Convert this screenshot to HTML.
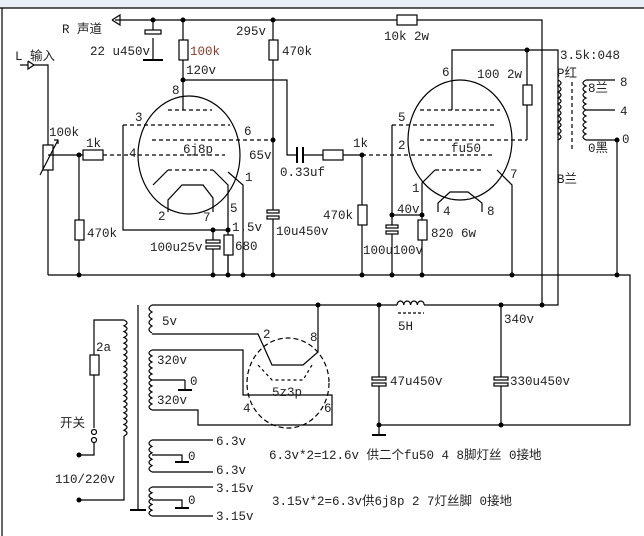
<!DOCTYPE html>
<html><head><meta charset="utf-8"><style>
html,body{margin:0;padding:0;background:#fff}
svg{display:block}
text{font-family:"Liberation Mono","Noto Sans CJK SC",monospace;font-size:12.5px;fill:#222}
.c{font-family:"Liberation Mono","Noto Sans CJK SC",monospace}
</style></head><body>
<svg width="644" height="536" viewBox="0 0 644 536" xmlns="http://www.w3.org/2000/svg">
<rect x="0" y="0" width="644" height="8" fill="#e9edf5"/>
<g fill="none" stroke="#000" stroke-width="1.2">
<line x1="0" y1="8" x2="644" y2="8"/>
<line x1="2" y1="8" x2="2" y2="536"/>
<!-- top rail -->
<polyline points="115,20 397,20"/><polyline points="417,20 542,20 542,305"/>
<rect x="397" y="15" width="20" height="10" fill="#fff"/>
<polyline points="112,20 120,15 120,25 112,20"/>
<!-- 22u cap -->
<line x1="153" y1="20" x2="153" y2="30"/><rect x="145" y="30" width="16" height="4"/><line x1="153" y1="38" x2="153" y2="60"/><line x1="143" y1="60" x2="163" y2="60" stroke-width="2"/>
<!-- 100k -->
<line x1="183" y1="20" x2="183" y2="40"/><rect x="179" y="40" width="9" height="20" fill="#fff"/><line x1="183" y1="60" x2="183" y2="110"/>
<polyline points="183,80 287,80 287,155 297,155"/>
<line x1="297" y1="147" x2="297" y2="163" stroke-width="2"/><line x1="303" y1="147" x2="303" y2="163" stroke-width="2"/>
<line x1="303" y1="155" x2="323" y2="155"/><rect x="323" y="150" width="20" height="10"/><line x1="343" y1="155" x2="362" y2="155"/>
<!-- 470k / 295 -->
<line x1="273" y1="20" x2="273" y2="40"/><rect x="269" y="40" width="9" height="20" fill="#fff"/><line x1="273" y1="60" x2="273" y2="210"/>
<rect x="267" y="210" width="12" height="3"/><rect x="267" y="216" width="12" height="3"/><line x1="273" y1="219" x2="273" y2="275"/>
<!-- input -->
<polyline points="20,65 28,65"/><polyline points="28,61 34,65 28,69 28,61"/><polyline points="34,65 48,65 48,275"/>
<rect x="43" y="145" width="10" height="25" fill="#fff"/><line x1="40" y1="175" x2="58" y2="140"/><polyline points="54,140 58,140 58,144"/>
<line x1="48" y1="155" x2="83" y2="155"/><rect x="83" y="150" width="20" height="10"/>
<line x1="79" y1="155" x2="79" y2="220"/><rect x="75" y="220" width="9" height="20"/><line x1="79" y1="240" x2="79" y2="275"/>
<!-- bottom rail -->
<polyline points="48,275 630,275 630,425 379,425"/>
<!-- 6j8p -->
<ellipse cx="189" cy="155" rx="51" ry="59"/>
<g stroke-dasharray="4,3"><line x1="168" y1="110" x2="212" y2="110"/><line x1="123" y1="125" x2="230" y2="125"/><line x1="152" y1="140" x2="273" y2="140"/><line x1="103" y1="155" x2="225" y2="155"/><line x1="168" y1="170" x2="213" y2="170"/></g>
<polyline points="123,125 123,230 228,230"/>
<polyline points="153,185 168,170"/><polyline points="213,170 228,185 228,275"/>
<polyline points="168,212 168,200 182,185 203,185 213,198 213,212"/>
<polyline points="228,172 243,185 243,275"/>
<line x1="213" y1="230" x2="213" y2="240"/><rect x="206" y="240" width="14" height="3"/><rect x="206" y="246" width="14" height="3"/><line x1="213" y1="249" x2="213" y2="275"/>
<rect x="224" y="235" width="9" height="20" fill="#fff"/><line x1="228" y1="255" x2="228" y2="275"/>
<!-- fu50 -->
<ellipse cx="460" cy="140" rx="52" ry="60"/>
<g stroke-dasharray="4,3"><line x1="420" y1="110" x2="500" y2="110"/><line x1="392" y1="125" x2="497" y2="125"/><line x1="420" y1="140" x2="527" y2="140"/><line x1="362" y1="155" x2="495" y2="155"/><line x1="435" y1="170" x2="483" y2="170"/></g>
<polyline points="452,110 452,50 558,50 558,305 542,305"/>
<line x1="527" y1="50" x2="527" y2="85"/><rect x="523" y="85" width="9" height="20" fill="#fff"/><line x1="527" y1="105" x2="527" y2="140"/>
<polyline points="392,125 392,225"/><rect x="386" y="225" width="12" height="3"/><rect x="386" y="231" width="12" height="3"/><line x1="392" y1="234" x2="392" y2="275"/>
<line x1="362" y1="155" x2="362" y2="205"/><rect x="358" y="205" width="9" height="20"/><line x1="362" y1="225" x2="362" y2="275"/>
<polyline points="435,170 422,183 422,220"/><rect x="418" y="220" width="9" height="20" fill="#fff"/><line x1="422" y1="240" x2="422" y2="275"/>
<line x1="392" y1="215" x2="422" y2="215"/>
<polyline points="497,170 512,185 512,275"/>
<polyline points="438,212 438,203 450,192 468,192 482,203 482,212"/>
<!-- output transformer -->
<path d="M558,80 q6,3 0,6 q6,3 0,6 q6,3 0,6 q6,3 0,6 q6,3 0,6 q6,3 0,6 q6,3 0,6 q6,3 0,6 q6,3 0,6 q6,3 0,6"/>
<line x1="572" y1="82" x2="572" y2="152" stroke-dasharray="4,3"/>
<path d="M586,80 q-6,3 0,6 q-6,3 0,6 q-6,3 0,6 q-6,3 0,6 q-6,3 0,6 q-6,3 0,6 q-6,3 0,6 q-6,3 0,6 q-6,3 0,6 q-6,3 0,6"/>
<line x1="586" y1="80" x2="615" y2="80"/><line x1="586" y1="110" x2="615" y2="110"/><polyline points="586,140 617,140 617,275"/>
<!-- power supply -->
<polyline points="152,305 542,305"/>
<rect x="397" y="299" width="27" height="8" fill="#fff" stroke="none"/>
<path d="M397,305 a3.4,4 0 0 1 6.8,0 a3.4,4 0 0 1 6.8,0 a3.4,4 0 0 1 6.8,0 a3.4,4 0 0 1 6.8,0"/>
<line x1="398" y1="313" x2="424" y2="313" stroke-dasharray="3,2"/>
<line x1="379" y1="305" x2="379" y2="377"/><rect x="372" y="377" width="14" height="3"/><rect x="372" y="383" width="14" height="3"/><line x1="379" y1="386" x2="379" y2="435"/><line x1="372" y1="435" x2="386" y2="435" stroke-width="2"/>
<line x1="501" y1="305" x2="501" y2="377"/><rect x="494" y="377" width="14" height="3"/><rect x="494" y="383" width="14" height="3"/><line x1="501" y1="386" x2="501" y2="425"/>
<!-- mains transformer -->
<line x1="138" y1="305" x2="138" y2="510"/><line x1="130" y1="510" x2="146" y2="510" stroke-width="2"/>
<path d="M124,320 q6,2.9 0,5.8 q6,2.9 0,5.8 q6,2.9 0,5.8 q6,2.9 0,5.8 q6,2.9 0,5.8 q6,2.9 0,5.8 q6,2.9 0,5.8 q6,2.9 0,5.8 q6,2.9 0,5.8 q6,2.9 0,5.8 q6,2.9 0,5.8 q6,2.9 0,5.8 q6,2.9 0,5.8 q6,2.9 0,5.8 q6,2.9 0,5.8 q6,2.9 0,5.8 q6,2.9 0,5.8 q6,2.9 0,5.8 q6,2.9 0,5.8 q6,2.9 0,5.8"/>
<polyline points="124,320 94,320 94,355"/><rect x="90" y="355" width="9" height="20"/><line x1="94" y1="375" x2="94" y2="428"/>
<circle cx="94" cy="432" r="2.5"/><circle cx="94" cy="440" r="2.5"/><polyline points="94,443 94,455 79,455"/>
<polyline points="79,500 124,500 124,436"/>
<!-- 5v -->
<path d="M152,305 q-6,3.5 0,7 q-6,3.5 0,7 q-6,3.5 0,7 q-6,3.5 0,7"/>
<polyline points="152,334 258,334 272,365 303,365 318,352 318,305"/>
<ellipse cx="288" cy="383" rx="41" ry="45" stroke-dasharray="5,3"/>
<polyline points="258,365 272,380 303,380 312,365" stroke-dasharray="3,3"/>
<path d="M152,350 q-6,3 0,6 q-6,3 0,6 q-6,3 0,6 q-6,3 0,6 q-6,3 0,6 q-6,3 0,6 q-6,3 0,6 q-6,3 0,6 q-6,3 0,6 q-6,3 0,6"/>
<polyline points="152,350 243,350 243,395 332,395 332,425 198,425 198,410 152,410"/>
<line x1="152" y1="380" x2="185" y2="380"/><line x1="185" y1="380" x2="185" y2="390"/><line x1="178" y1="390" x2="192" y2="390" stroke-width="2"/>
<!-- 6.3 -->
<path d="M152,440 q-6,3.2 0,6.4 q-6,3.2 0,6.4 q-6,3.2 0,6.4 q-6,3.2 0,6.4 q-6,3.2 0,6.4"/>
<line x1="152" y1="440" x2="213" y2="440"/><line x1="152" y1="472" x2="213" y2="472"/>
<polyline points="152,455 182,455 182,462"/><line x1="175" y1="462" x2="189" y2="462" stroke-width="2"/>
<!-- 3.15 -->
<path d="M152,487 q-6,2.9 0,5.8 q-6,2.9 0,5.8 q-6,2.9 0,5.8 q-6,2.9 0,5.8 q-6,2.9 0,5.8"/>
<line x1="152" y1="487" x2="213" y2="487"/><line x1="152" y1="516" x2="213" y2="516"/>
<polyline points="152,500 182,500 182,508"/><line x1="175" y1="508" x2="189" y2="508" stroke-width="2"/>
</g>
<g fill="#000">
<circle cx="153" cy="20" r="2.5"/><circle cx="183" cy="20" r="2.5"/><circle cx="273" cy="20" r="2.5"/><circle cx="183" cy="80" r="2.5"/><circle cx="273" cy="140" r="2.5"/><circle cx="79" cy="155" r="2.5"/><circle cx="362" cy="155" r="2.5"/><circle cx="527" cy="50" r="2.5"/>
<circle cx="213" cy="230" r="2.5"/><circle cx="228" cy="230" r="2.5"/><circle cx="392" cy="215" r="2.5"/><circle cx="422" cy="215" r="2.5"/><circle cx="617" cy="140" r="2.5"/>
<circle cx="79" cy="275" r="2.5"/><circle cx="213" cy="275" r="2.5"/><circle cx="228" cy="275" r="2.5"/><circle cx="243" cy="275" r="2.5"/><circle cx="273" cy="275" r="2.5"/><circle cx="362" cy="275" r="2.5"/><circle cx="392" cy="275" r="2.5"/><circle cx="422" cy="275" r="2.5"/><circle cx="512" cy="275" r="2.5"/><circle cx="617" cy="275" r="2.5"/>
<circle cx="318" cy="305" r="2.5"/><circle cx="379" cy="305" r="2.5"/><circle cx="501" cy="305" r="2.5"/><circle cx="542" cy="305" r="2.5"/><circle cx="379" cy="425" r="2.5"/><circle cx="501" cy="425" r="2.5"/><circle cx="79" cy="455" r="2.5"/><circle cx="79" cy="500" r="2.5"/>
</g>
<text x="62" y="33">R 声道</text>
<text x="90" y="55">22 u450v</text>
<text x="190" y="55" style="fill:#8b3a2a">100k</text>
<text x="186" y="74">120v</text>
<text x="236" y="35">295v</text>
<text x="282" y="55">470k</text>
<text x="15" y="60">L 输入</text>
<text x="49" y="136">100k</text>
<text x="86" y="147">1k</text>
<text x="87" y="237">470k</text>
<text x="172" y="94">8</text><text x="135" y="121">3</text><text x="244" y="135">6</text><text x="129" y="157">4</text><text x="245" y="181">1</text><text x="158" y="220">2</text><text x="203" y="221">7</text><text x="230" y="212">5</text>
<text x="183" y="153">6j8p</text>
<text x="249" y="159">65v</text>
<text x="232" y="231">1.5v</text>
<text x="276" y="235">10u450v</text>
<text x="150" y="251">100u25v</text>
<text x="235" y="250">680</text>
<text x="280" y="176">0.33uf</text>
<text x="353" y="147">1k</text>
<text x="384" y="40">10k 2w</text>
<text x="442" y="76">6</text><text x="477" y="78">100 2w</text>
<text x="398" y="121">5</text><text x="398" y="149">2</text><text x="451" y="152">fu50</text><text x="412" y="192">1</text><text x="510" y="178">7</text><text x="443" y="215">4</text><text x="487" y="215">8</text>
<text x="397" y="213">40v</text>
<text x="323" y="219">470k</text>
<text x="431" y="237">820 6w</text>
<text x="363" y="254">100u100v</text>
<text x="560" y="59">3.5k:048</text>
<text x="557" y="77">P红</text>
<text x="588" y="92">8兰</text>
<text x="620" y="86">8</text><text x="620" y="115">4</text><text x="622" y="143">0</text>
<text x="588" y="152">0黑</text>
<text x="557" y="183">B兰</text>
<text x="162" y="325">5v</text>
<text x="263" y="338">2</text><text x="310" y="341">8</text>
<text x="157" y="364">320v</text><text x="157" y="404">320v</text>
<text x="190" y="385">0</text>
<text x="272" y="396">5z3p</text>
<text x="243" y="412">4</text><text x="324" y="412">6</text>
<text x="398" y="330">5H</text>
<text x="504" y="323">340v</text>
<text x="390" y="385">47u450v</text>
<text x="510" y="385">330u450v</text>
<text x="96" y="351">2a</text>
<text x="60" y="427">开关</text>
<text x="55" y="483">110/220v</text>
<text x="216" y="445">6.3v</text><text x="216" y="474">6.3v</text><text x="188" y="460">0</text>
<text x="216" y="492">3.15v</text><text x="216" y="520">3.15v</text><text x="188" y="504">0</text>
<text x="269" y="459">6.3v*2=12.6v 供二个fu50  4 8脚灯丝 0接地</text>
<text x="272" y="505">3.15v*2=6.3v供6j8p 2 7灯丝脚 0接地</text>
</svg>
</body></html>
